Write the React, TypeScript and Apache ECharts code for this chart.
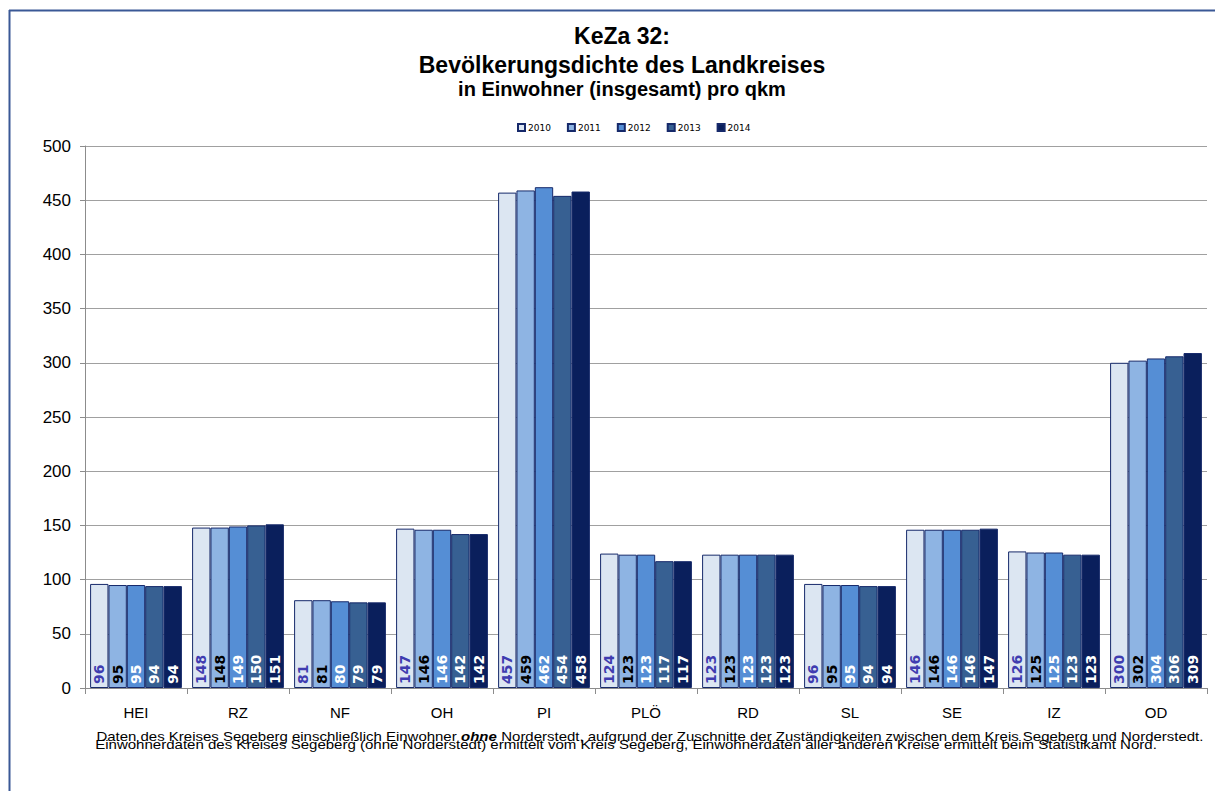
import React, { useEffect, useRef } from "react";
import * as echarts from "echarts";

const categories = ["HEI", "RZ", "NF", "OH", "PI", "PLÖ", "RD", "SL", "SE", "IZ", "OD"];
const years = ["2010", "2011", "2012", "2013", "2014"];
const v2010 = [96, 148, 81, 147, 457, 124, 123, 96, 146, 126, 300];
const v2011 = [95, 148, 81, 146, 459, 123, 123, 95, 146, 125, 302];
const v2012 = [95, 149, 80, 146, 462, 123, 123, 95, 146, 125, 304];
const v2013 = [94, 150, 79, 142, 454, 117, 123, 94, 146, 123, 306];
const v2014 = [94, 151, 79, 142, 458, 117, 123, 94, 147, 123, 309];
const seriesValues = [v2010, v2011, v2012, v2013, v2014];
const barColors = ["#dce6f2", "#8eb4e3", "#558ed5", "#376092", "#0a1f5c"];
const labelColors = ["#3f3cb0", "#000000", "#ffffff", "#ffffff", "#ffffff"];

const titleLines = ["KeZa 32:", "Bevölkerungsdichte des Landkreises", "in Einwohner (insgesamt) pro qkm"];
const footLine1a = "Daten des Kreises Segeberg einschließlich Einwohner ";
const footLine1b = "ohne";
const footLine1c = " Norderstedt, aufgrund der Zuschnitte der Zuständigkeiten zwischen dem Kreis Segeberg und Norderstedt.";
const footLine2 = "Einwohnerdaten des Kreises Segeberg (ohne Norderstedt) ermittelt vom Kreis Segeberg, Einwohnerdaten aller anderen Kreise ermittelt beim Statistikamt Nord.";

export default function App() {
  const ref = useRef<HTMLDivElement>(null);
  useEffect(() => {
    if (!ref.current) return;
    const chart = echarts.init(ref.current, undefined, { renderer: "svg" });
    const font = "Arial";
    const labelFont = "DejaVu Sans";
    chart.setOption({
      animation: false,
      backgroundColor: "#ffffff",
      title: [
        { text: titleLines[0], left: 617, top: 19, textAlign: "center", textStyle: { fontSize: 23, fontWeight: "bold", color: "#000", fontFamily: font } },
        { text: titleLines[1], left: 617, top: 48, textAlign: "center", textStyle: { fontSize: 23, fontWeight: "bold", color: "#000", fontFamily: font } },
        { text: titleLines[2], left: 617, top: 74, textAlign: "center", textStyle: { fontSize: 20, fontWeight: "bold", color: "#000", fontFamily: font } },
      ],
      legend: {
        top: 118,
        left: 512,
        itemWidth: 7,
        itemHeight: 7,
        itemGap: 16,
        icon: "rect",
        textStyle: { fontSize: 9, color: "#000", fontFamily: labelFont, padding: [0, 0, 0, -2] },
        data: years,
      },
      grid: { left: 85, right: 8, top: 146, bottom: 103 },
      xAxis: {
        type: "category",
        data: categories,
        axisLine: { lineStyle: { color: "#8c8c8c", width: 1 } },
        axisTick: { show: true, length: 6, lineStyle: { color: "#8c8c8c" } },
        axisLabel: { fontSize: 15, color: "#000", margin: 17, fontFamily: font },
      },
      yAxis: {
        type: "value",
        min: 0,
        max: 500,
        interval: 50,
        axisLine: { show: true, lineStyle: { color: "#8c8c8c", width: 1 } },
        axisTick: { show: true, length: 5, lineStyle: { color: "#8c8c8c" } },
        axisLabel: { fontSize: 17, color: "#000", margin: 14, fontFamily: font },
        splitLine: { lineStyle: { color: "#a0a0a0", width: 1 } },
      },
      series: years.map((y, i) => ({
        name: y,
        type: "bar",
        data: seriesValues[i],
        barGap: "0%",
        barCategoryGap: "10%",
        itemStyle: { color: barColors[i], borderColor: "#16296a", borderWidth: 1 },
        label: {
          show: true,
          position: "insideBottom",
          rotate: 90,
          align: "left",
          verticalAlign: "middle",
          distance: 4,
          fontSize: 14,
          fontWeight: "bold",
          fontFamily: labelFont,
          color: labelColors[i],
          overflow: "none",
        },
        labelLayout: () => ({ rotate: 90, hideOverlap: false }),
      })),
      graphic: [
        { type: "line", shape: { x1: 9, y1: 10.5, x2: 1215, y2: 10.5 }, style: { stroke: "#3a5896", lineWidth: 2 } },
        { type: "line", shape: { x1: 9.5, y1: 10, x2: 9.5, y2: 791 }, style: { stroke: "#3a5896", lineWidth: 2 } },
        {
          type: "text",
          x: 650,
          y: 737,
          scaleX: 1.07,
          scaleY: 0.85,
          style: {
            text: "{a|" + footLine1a + "}{b|" + footLine1b + "}{a|" + footLine1c + "}",
            align: "center",
            verticalAlign: "middle",
            rich: {
              a: { fontSize: 14, fontFamily: font, fill: "#000" },
              b: { fontSize: 14, fontFamily: font, fontWeight: "bold", fontStyle: "italic", fill: "#000" },
            },
          },
        },
        {
          type: "text",
          x: 626,
          y: 745,
          scaleX: 1.075,
          scaleY: 0.85,
          style: {
            text: footLine2,
            align: "center",
            verticalAlign: "middle",
            fontSize: 14,
            fontFamily: font,
            fill: "#000",
          },
        },
      ],
    });
    return () => chart.dispose();
  }, []);
  return <div ref={ref} style={{ position: "fixed", left: 0, top: 0, width: 1215, height: 791 }} />;
}
